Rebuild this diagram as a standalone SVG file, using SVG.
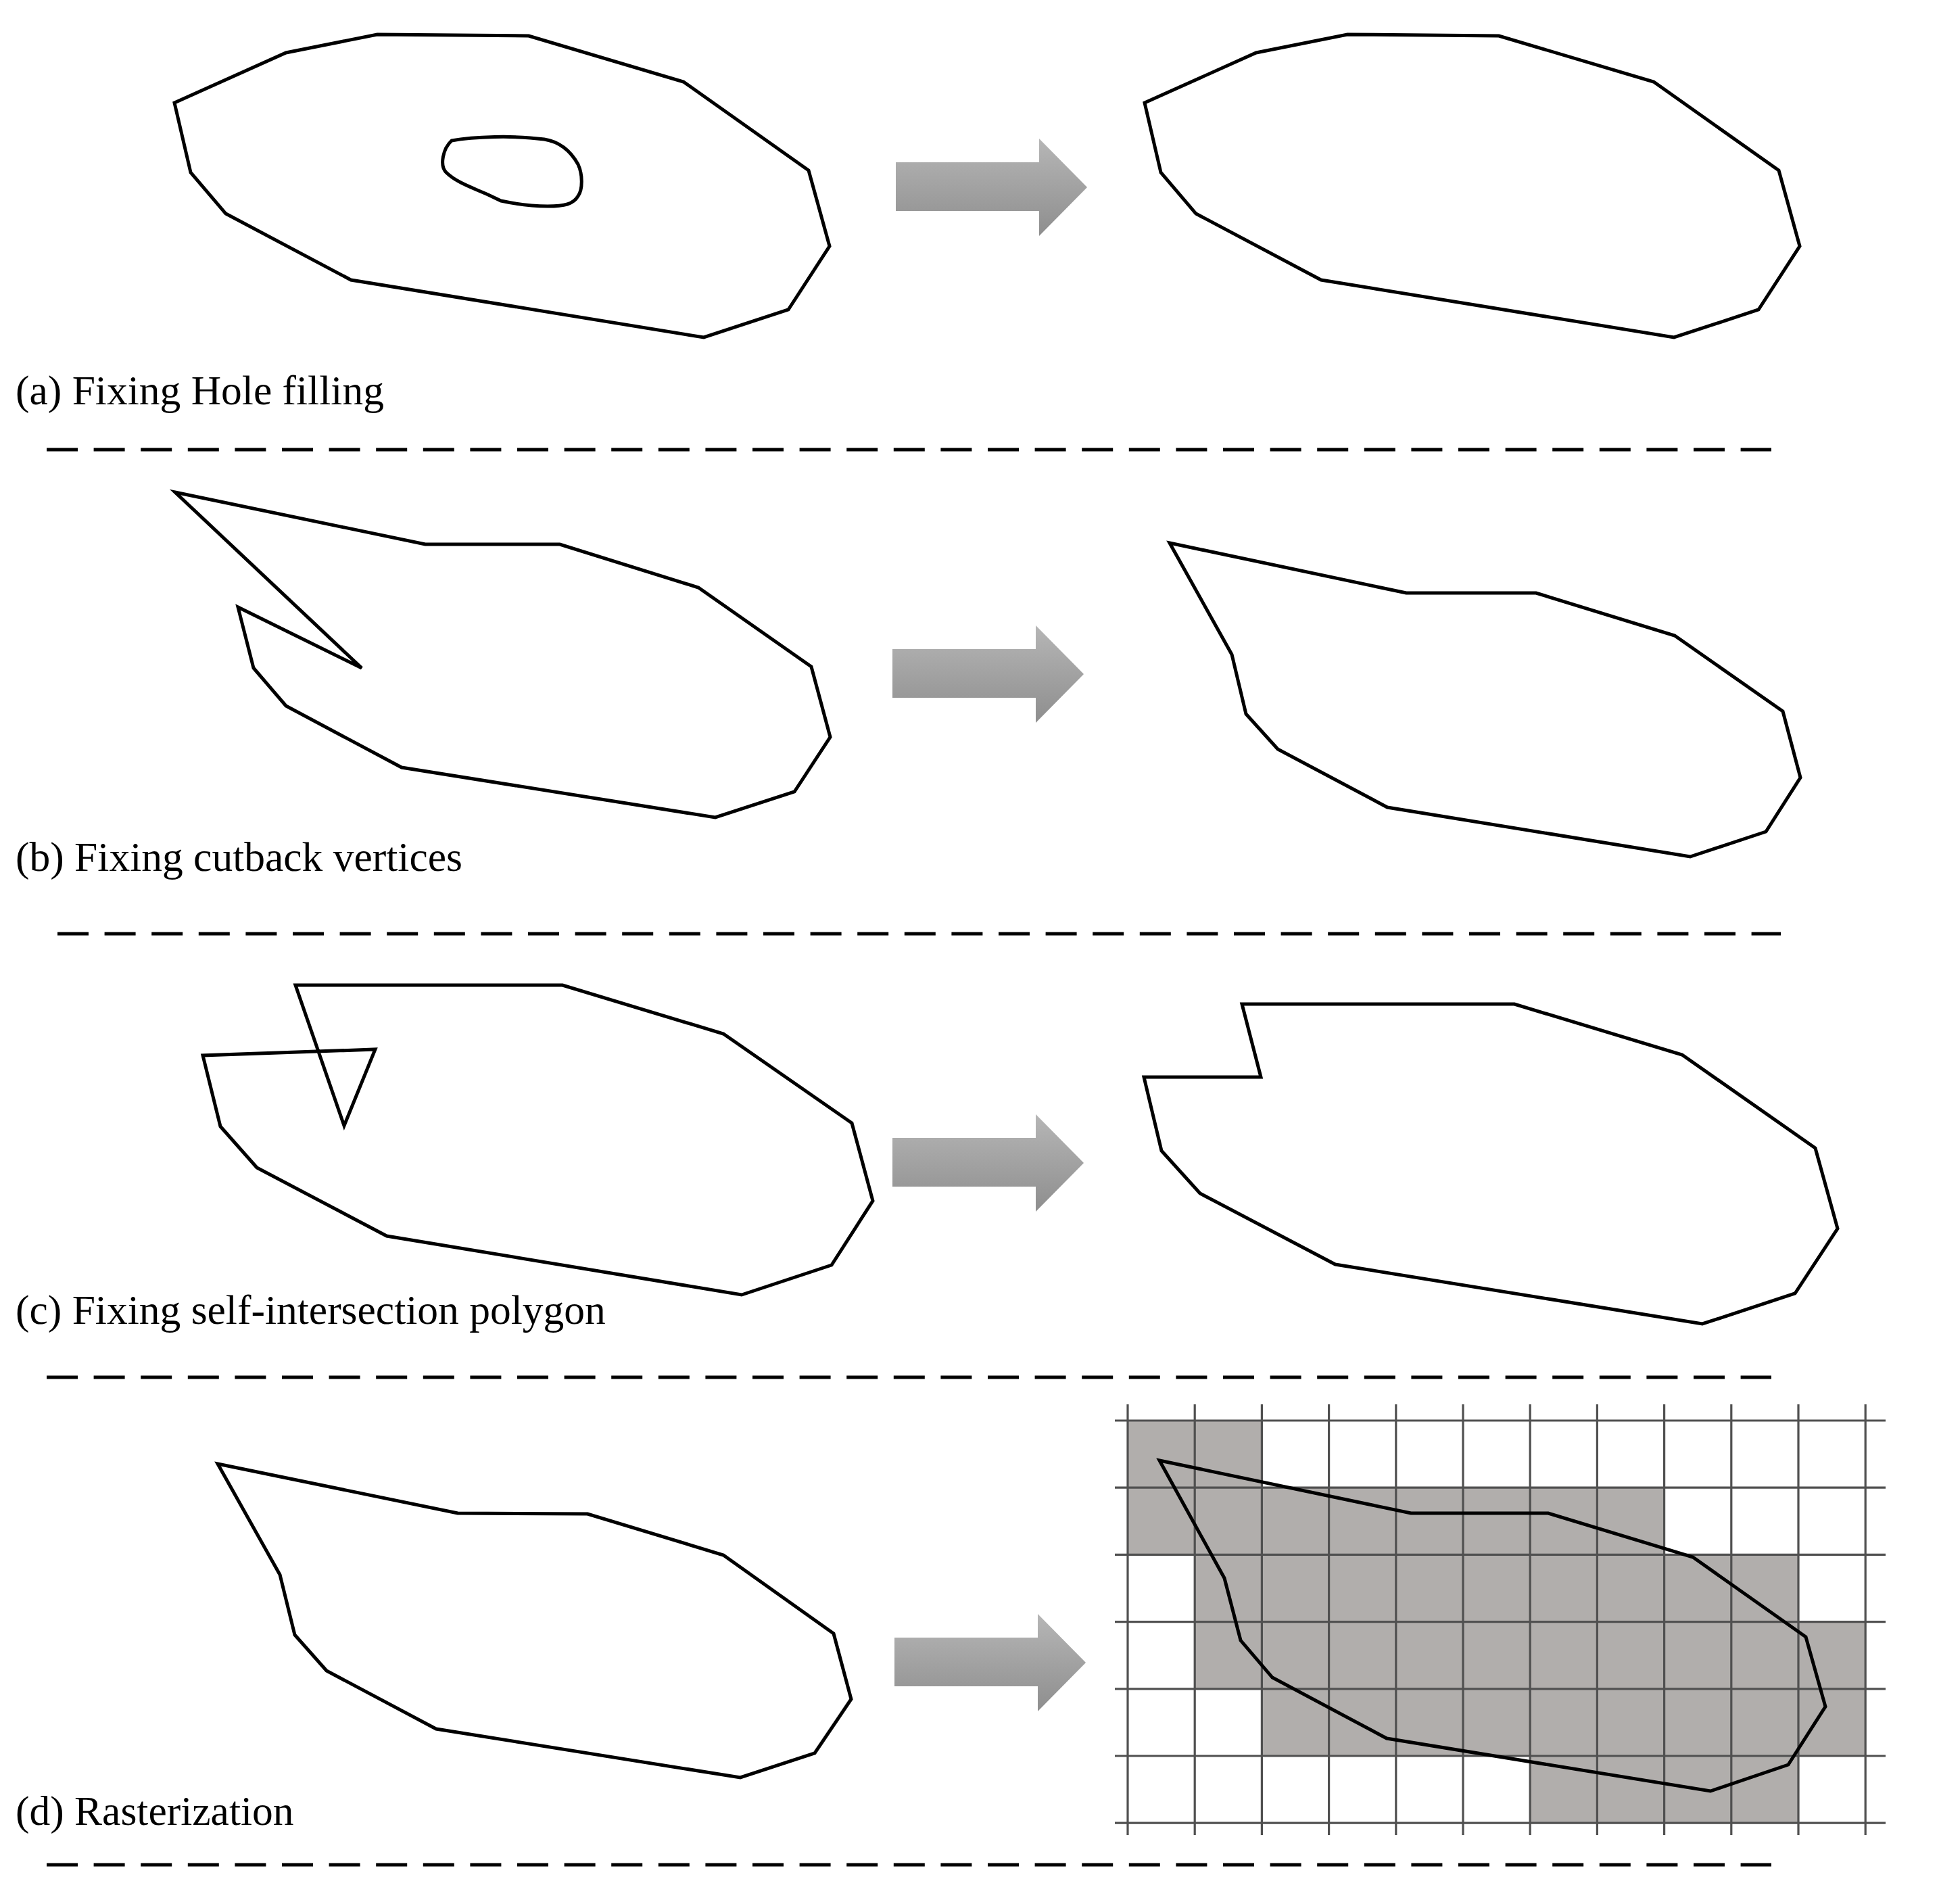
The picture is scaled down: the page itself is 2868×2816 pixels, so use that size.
<svg xmlns="http://www.w3.org/2000/svg" width="2868" height="2816" viewBox="0 0 2868 2816">
<style>
.shape{fill:none;stroke:#000;stroke-width:5;stroke-linejoin:miter}
.sep{fill:none;stroke:#000;stroke-width:5;stroke-dasharray:46 23.6}
.cap{font-family:"Liberation Serif","Times New Roman",serif;font-size:61.5px;fill:#000}
.cell{fill:#b1aeac;stroke:none}
.grid{fill:none;stroke:#505050;stroke-width:3.2}
.arrow{fill:url(#ag);stroke:none}
</style>
<defs>
<linearGradient id="ag" x1="0" y1="0" x2="0" y2="1">
<stop offset="0" stop-color="#b6b6b6"/>
<stop offset="1" stop-color="#8e8e8e"/>
</linearGradient>
<path id="blockArrow" d="M0,35 H212 V0 L283,72 L212,144 V107 H0 Z"/>
</defs>
<rect x="0" y="0" width="2868" height="2816" fill="#fff"/>

<g id="panel-a-before">
<polygon class="shape" points="258,152 423,78 558,51 782,53 1011,121 1196,252 1227,364 1166,458 1041,499 519,414 334,316 282,255"/>
<path class="shape" d="M668,208 C700,202 760,200 805,206 C830,210 845,225 855,243 C862,258 862,280 855,290 C848,302 835,305 810,305 C780,305 755,300 741,297 L722,288 C700,278 675,270 660,255 C650,245 655,220 668,208 Z"/>
</g>
<g id="panel-a-after">
<polygon class="shape" points="1693,152 1858,78 1993,51 2217,53 2446,121 2631,252 2662,364 2601,458 2476,499 1954,414 1769,316 1717,255"/>
</g>
<g id="label-a"><text class="cap" x="23" y="598">(a) Fixing Hole filling</text></g>

<g id="panel-b-before">
<polygon class="shape" points="259,728 629,805 828,805 1033,869 1200,986 1228,1090 1175,1171 1058,1209 594,1135 423,1044 375,988 352,898 535,988"/>
</g>
<g id="panel-b-after">
<polygon class="shape" points="1730,803 2080,877 2272,877 2477,940 2637,1052 2663,1150 2612,1230 2500,1267 2052,1194 1890,1108 1843,1056 1822,968"/>
</g>
<g id="label-b"><text class="cap" x="23" y="1288">(b) Fixing cutback vertices</text></g>

<g id="panel-c-before">
<polygon class="shape" points="437,1457 832,1457 1070,1529 1260,1661 1291,1776 1230,1871 1097,1915 572,1828 380,1727 326,1666 300,1561 555,1552 509,1665"/>
</g>
<g id="panel-c-after">
<polygon class="shape" points="1837,1485 2240,1485 2488,1560 2685,1698 2718,1817 2655,1913 2518,1958 1975,1870 1775,1765 1718,1702 1692,1593 1865,1593"/>
</g>
<g id="label-c"><text class="cap" x="23" y="1958">(c) Fixing self-intersection polygon</text></g>

<g id="panel-d-before">
<polygon class="shape" points="322,2165 677,2238 869,2239 1070,2300 1233,2416 1259,2513 1205,2593 1095,2629 645,2557 483,2471 436,2418 414,2329"/>
</g>
<g id="panel-d-after">
<rect class="cell" x="1668" y="2101" width="198.4" height="99.2"/>
<rect class="cell" x="1668" y="2200.2" width="793.6" height="99.2"/>
<rect class="cell" x="1767.2" y="2299.4" width="892.8" height="99.2"/>
<rect class="cell" x="1767.2" y="2398.6" width="992" height="99.2"/>
<rect class="cell" x="1866.4" y="2497.8" width="892.8" height="99.2"/>
<rect class="cell" x="2263.2" y="2597" width="396.8" height="99.2"/>
<path class="grid" d="M1668,2077V2714 M1767.2,2077V2714 M1866.4,2077V2714 M1965.6,2077V2714 M2064.8,2077V2714 M2164,2077V2714 M2263.2,2077V2714 M2362.4,2077V2714 M2461.6,2077V2714 M2560.8,2077V2714 M2660,2077V2714 M2759.2,2077V2714 M1649,2101H2789 M1649,2200.2H2789 M1649,2299.4H2789 M1649,2398.6H2789 M1649,2497.8H2789 M1649,2597H2789 M1649,2696.2H2789"/>
<polygon class="shape" points="1715,2160 2087,2238 2290,2238 2504,2303 2671,2421 2700,2524 2645,2610 2530,2649 2051,2571 1882,2481 1835,2426 1811,2334"/>
</g>
<g id="label-d"><text class="cap" x="23" y="2699">(d) Rasterization</text></g>

<g id="connectors">
<use href="#blockArrow" class="arrow" transform="translate(1325,205)"/>
<use href="#blockArrow" class="arrow" transform="translate(1320,925)"/>
<use href="#blockArrow" class="arrow" transform="translate(1320,1648)"/>
<use href="#blockArrow" class="arrow" transform="translate(1323,2387)"/>
</g>

<g id="separators">
<line class="sep" x1="69" y1="665" x2="2620" y2="665"/>
<line class="sep" x1="85" y1="1381" x2="2634" y2="1381"/>
<line class="sep" x1="69" y1="2037" x2="2620" y2="2037"/>
<line class="sep" x1="69" y1="2758" x2="2620" y2="2758"/>
</g>
</svg>
